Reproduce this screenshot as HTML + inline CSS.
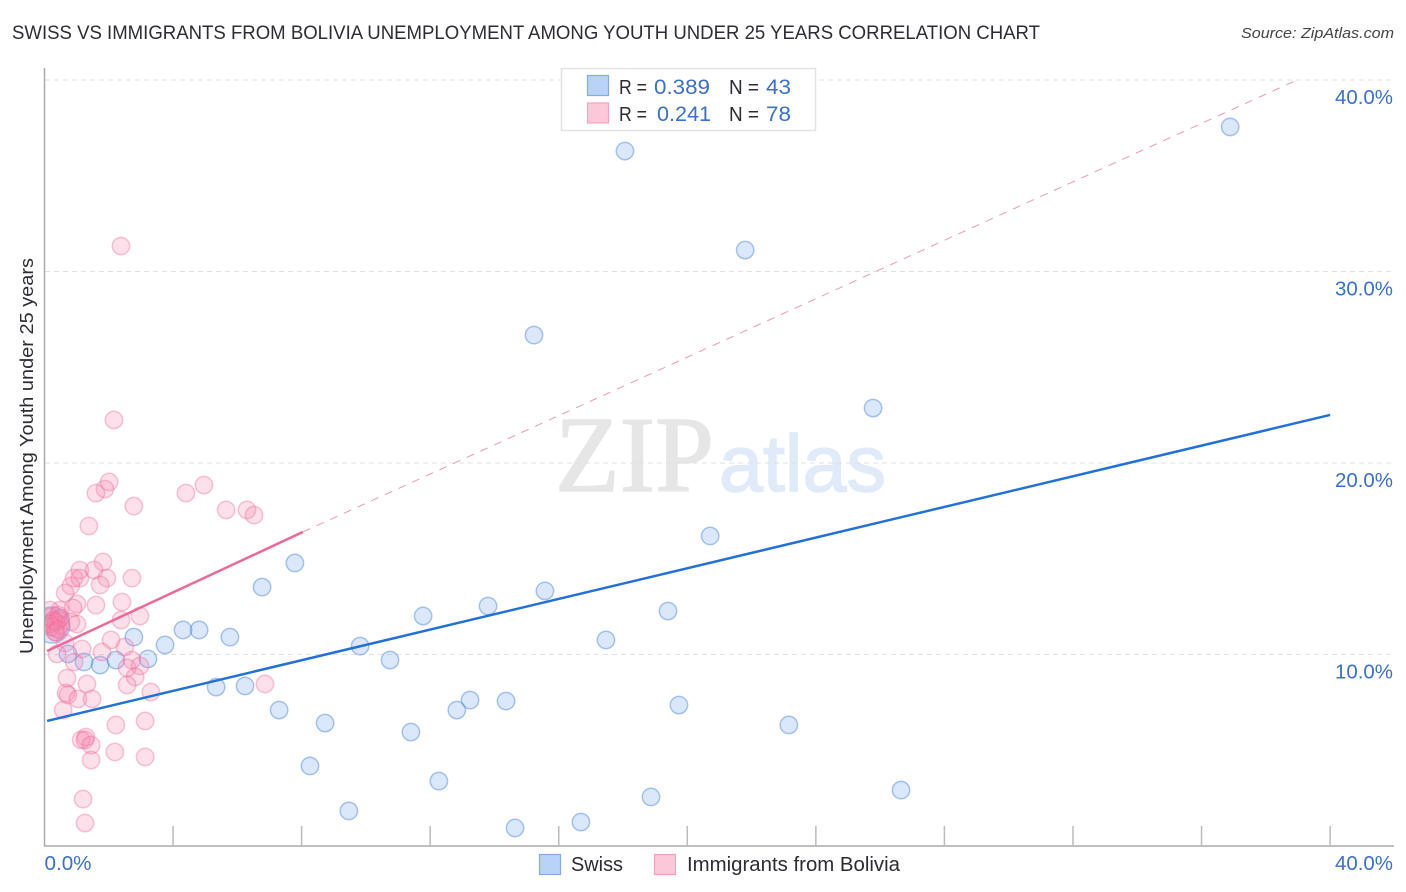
<!DOCTYPE html>
<html lang="en">
<head>
<meta charset="utf-8">
<title>Swiss vs Immigrants from Bolivia Unemployment Among Youth Under 25 Years Correlation Chart</title>
<style>
html,body{margin:0;padding:0;background:#fff;}
body{width:1406px;height:892px;overflow:hidden;}
svg{display:block;font-family:"Liberation Sans",sans-serif;}
</style>
</head>
<body>
<svg id="chart" xmlns="http://www.w3.org/2000/svg" width="1406" height="892" viewBox="0 0 1406 892">
  <defs>
    <clipPath id="plotClip"><rect x="45" y="60" width="1349" height="786"/></clipPath>
  </defs>
  <text x="12" y="39" font-size="19.5" fill="#2c2c34" textLength="1028" lengthAdjust="spacingAndGlyphs">SWISS VS IMMIGRANTS FROM BOLIVIA UNEMPLOYMENT AMONG YOUTH UNDER 25 YEARS CORRELATION CHART</text>
  <text x="1394" y="38" font-size="15" font-style="italic" fill="#444" text-anchor="end" textLength="153" lengthAdjust="spacingAndGlyphs">Source: ZipAtlas.com</text>
  <g>
    <text x="555" y="491" font-family="'Liberation Serif',serif" font-size="108" fill="#e6e6e6" stroke="#e6e6e6" stroke-width="1.5" textLength="159" lengthAdjust="spacingAndGlyphs">ZIP</text>
    <text x="719" y="491" font-size="80" fill="#e0eaf8" stroke="#e0eaf8" stroke-width="1.5" textLength="167" lengthAdjust="spacingAndGlyphs">atlas</text>
  </g>
  <g id="grid"></g>
  <g id="axes"></g>
  <g id="bluePoints" clip-path="url(#plotClip)"></g>
  <g id="pinkPoints" clip-path="url(#plotClip)"></g>
  <g id="trends"></g>
  <text transform="translate(33,456) rotate(-90)" font-size="18.5" fill="#2c2c34" text-anchor="middle" textLength="396" lengthAdjust="spacingAndGlyphs">Unemployment Among Youth under 25 years</text>
  <g>
    <rect x="561.5" y="68.5" width="254" height="62" fill="#fff" stroke="#e2e2e2" stroke-width="1.5"/>
    <rect x="587.5" y="75.5" width="21" height="20" fill="#b9d3f7" stroke="#82ace6" stroke-width="1.2"/>
    <rect x="587.5" y="103" width="21" height="20" fill="#fcc8d9" stroke="#f3a3bd" stroke-width="1.2"/>
    <text x="619" y="94" font-size="20" fill="#2c2c34" textLength="28" lengthAdjust="spacingAndGlyphs">R =</text>
    <text x="654" y="94" font-size="21" fill="#3a70d0" textLength="56" lengthAdjust="spacingAndGlyphs">0.389</text>
    <text x="729" y="94" font-size="20" fill="#2c2c34" textLength="30" lengthAdjust="spacingAndGlyphs">N =</text>
    <text x="766" y="94" font-size="21" fill="#3a70d0" textLength="25" lengthAdjust="spacingAndGlyphs">43</text>
    <text x="619" y="121" font-size="20" fill="#2c2c34" textLength="28" lengthAdjust="spacingAndGlyphs">R =</text>
    <text x="657" y="121" font-size="21" fill="#3a70d0" textLength="54" lengthAdjust="spacingAndGlyphs">0.241</text>
    <text x="729" y="121" font-size="20" fill="#2c2c34" textLength="30" lengthAdjust="spacingAndGlyphs">N =</text>
    <text x="766" y="121" font-size="21" fill="#3a70d0" textLength="25" lengthAdjust="spacingAndGlyphs">78</text>
  </g>
  <g>
    <rect x="539.5" y="854.5" width="21" height="20" fill="#b9d3f7" stroke="#82ace6" stroke-width="1.2"/>
    <text x="571" y="871" font-size="20" fill="#2c2c34" textLength="52" lengthAdjust="spacingAndGlyphs">Swiss</text>
    <rect x="654.5" y="854.5" width="21" height="20" fill="#fcc8d9" stroke="#f3a3bd" stroke-width="1.2"/>
    <text x="687" y="871" font-size="20" fill="#2c2c34" textLength="213" lengthAdjust="spacingAndGlyphs">Immigrants from Bolivia</text>
  </g>
</svg>
<script>
var swissX = [36.89,18.06,21.80,15.23,25.78,20.71,7.79,6.77,15.57,13.80,11.78,19.40,17.47,4.31,4.81,5.77,2.78,3.75,9.82,10.75,3.22,2.22,1.73,1.23,0.73,5.34,6.24,7.30,13.24,14.36,12.83,19.74,8.73,11.40,23.16,8.26,12.27,9.47,18.87,26.65,14.64,16.69,0.23];
var swissY = [37.55,36.29,31.12,26.68,22.87,16.19,14.78,13.52,13.32,12.53,12.01,12.27,10.76,11.28,11.28,10.91,10.91,10.50,10.44,9.71,9.77,9.71,9.45,9.61,10.03,8.30,8.36,7.10,7.62,7.57,7.10,7.36,6.42,5.95,6.32,4.18,3.39,1.83,2.56,2.92,0.94,1.25,11.54];
var swissWeight = [1,1,1,1,1,1,1,1,1,1,1,1,1,1,1,1,1,1,1,1,1,1,1,1,1,1,1,1,1,1,1,1,1,1,1,1,1,1,1,1,1,1,4.3];
var boliviaX = [2.38,2.16,2.01,1.88,1.60,4.40,4.96,2.78,5.65,6.30,6.52,1.38,6.86,1.82,1.10,1.54,0.92,1.10,1.94,2.72,1.73,0.82,0.64,1.01,1.60,2.41,0.89,0.48,0.17,2.38,2.97,1.01,0.82,2.07,1.17,1.79,2.50,0.64,0.39,0.92,2.72,2.57,2.97,2.82,2.57,0.70,1.32,3.31,0.67,0.73,1.04,1.48,0.58,2.22,3.13,1.29,1.14,1.26,1.45,1.45,2.19,3.13,1.20,1.26,0.18,0.27,0.33,0.43,0.43,0.49,0.33,0.27,0.21,0.36,0.36,0.18,0.49,0.43];
var boliviaY = [31.33,22.25,19.01,18.64,18.43,18.43,18.85,17.75,17.55,17.55,17.28,16.71,8.46,14.83,14.41,14.41,13.99,13.99,13.99,13.99,13.63,13.58,13.21,12.64,12.58,12.74,12.43,12.32,12.32,11.80,12.01,11.59,11.70,10.76,10.29,10.13,10.39,10.60,10.03,9.61,9.71,9.30,9.40,8.83,8.41,8.77,8.46,8.04,7.99,7.89,7.68,7.68,7.10,6.32,6.53,5.69,5.54,5.54,5.27,4.49,4.91,4.65,2.45,1.20,11.96,11.70,11.38,12.06,11.80,11.54,11.17,11.80,11.44,11.70,11.17,11.60,11.90,11.30];
var xMinorTicks = [0,4,8,12,16,20,24,28,32,36,40];
var yGridValues = [10,20,30,40];
var yTickLabels = ["10.0%","20.0%","30.0%","40.0%"];
var xTickValues = [0,40];
var xTickLabels = ["0.0%","40.0%"];
var swissTrendX = [0.08,40];
var swissTrendY = [6.53,22.51];
var boliviaTrendX = [0.08,8.04];
var boliviaTrendY = [10.18,16.40];
var boliviaDashX = [8.04,38.97];
var boliviaDashY = [16.40,40];

var NS = "http://www.w3.org/2000/svg";
function xScale(v){ return 44.5 + v * 32.14; }
function yScale(v){ return 846 - v * 19.15; }
function mk(parent, tag, attrs){
  var el = document.createElementNS(NS, tag);
  for (var k in attrs) el.setAttribute(k, attrs[k]);
  parent.appendChild(el);
  return el;
}

var grid = document.getElementById("grid");
yGridValues.forEach(function(v, i){
  var line = mk(grid, "line", {x1:45, x2:1394, y1:yScale(v), y2:yScale(v), stroke:"#e0e0e0", "stroke-width":1, "stroke-dasharray":"5 4"});
  
  
  var t = mk(grid, "text", {x:1393, y:yScale(v)+24, "font-size":20, fill:"#3a70d0", "text-anchor":"end", textLength:58, lengthAdjust:"spacingAndGlyphs"});
  t.textContent = yTickLabels[i];
  
  
});

var axes = document.getElementById("axes");
var yAxis = mk(axes, "line", {x1:44.5, x2:44.5, y1:68, y2:846, stroke:"#aaaaaa", "stroke-width":1.5});


var xAxis = mk(axes, "line", {x1:44, x2:1394, y1:846, y2:846, stroke:"#aaaaaa", "stroke-width":1.5});


xMinorTicks.forEach(function(v){
  if (v === 0) return;
  var tick = mk(axes, "line", {x1:xScale(v), x2:xScale(v), y1:826, y2:846, stroke:"#bbbbbb", "stroke-width":1.5});
  
  
});
xTickValues.forEach(function(v, i){
  var first = i === 0;
  var t = mk(axes, "text", {x:first ? xScale(v) : 1393, y:870, "font-size":20, fill:"#3a70d0", "text-anchor":first ? "start" : "end", textLength:first ? 47 : 58, lengthAdjust:"spacingAndGlyphs"});
  t.textContent = xTickLabels[i];
  
  
});

var blueGroup = document.getElementById("bluePoints");
swissX.forEach(function(v, i){
  var c = mk(blueGroup, "circle", {cx:xScale(v), cy:yScale(swissY[i]), r:8.7 * Math.sqrt(swissWeight[i]), fill:"rgba(110,165,240,0.25)", stroke:"rgba(70,130,220,0.45)", "stroke-width":1.5});
  
  
});
var pinkGroup = document.getElementById("pinkPoints");
boliviaX.forEach(function(v, i){
  var c = mk(pinkGroup, "circle", {cx:xScale(v), cy:yScale(boliviaY[i]), r:8.7, fill:"rgba(248,130,170,0.25)", stroke:"rgba(236,105,155,0.38)", "stroke-width":1.5});
  
  
});

var trends = document.getElementById("trends");
var dash = mk(trends, "line", {x1:xScale(boliviaDashX[0]), y1:yScale(boliviaDashY[0]), x2:xScale(boliviaDashX[1]), y2:yScale(boliviaDashY[1]), stroke:"#e89ab6", "stroke-width":1, "stroke-dasharray":"8 7"});


var blueLine = mk(trends, "line", {x1:xScale(swissTrendX[0]), y1:yScale(swissTrendY[0]), x2:xScale(swissTrendX[1]), y2:yScale(swissTrendY[1]), stroke:"#2271d8", "stroke-width":2.5});


var pinkLine = mk(trends, "line", {x1:xScale(boliviaTrendX[0]), y1:yScale(boliviaTrendY[0]), x2:xScale(boliviaTrendX[1]), y2:yScale(boliviaTrendY[1]), stroke:"#ec6a9b", "stroke-width":2.5});


</script>
</body>
</html>
